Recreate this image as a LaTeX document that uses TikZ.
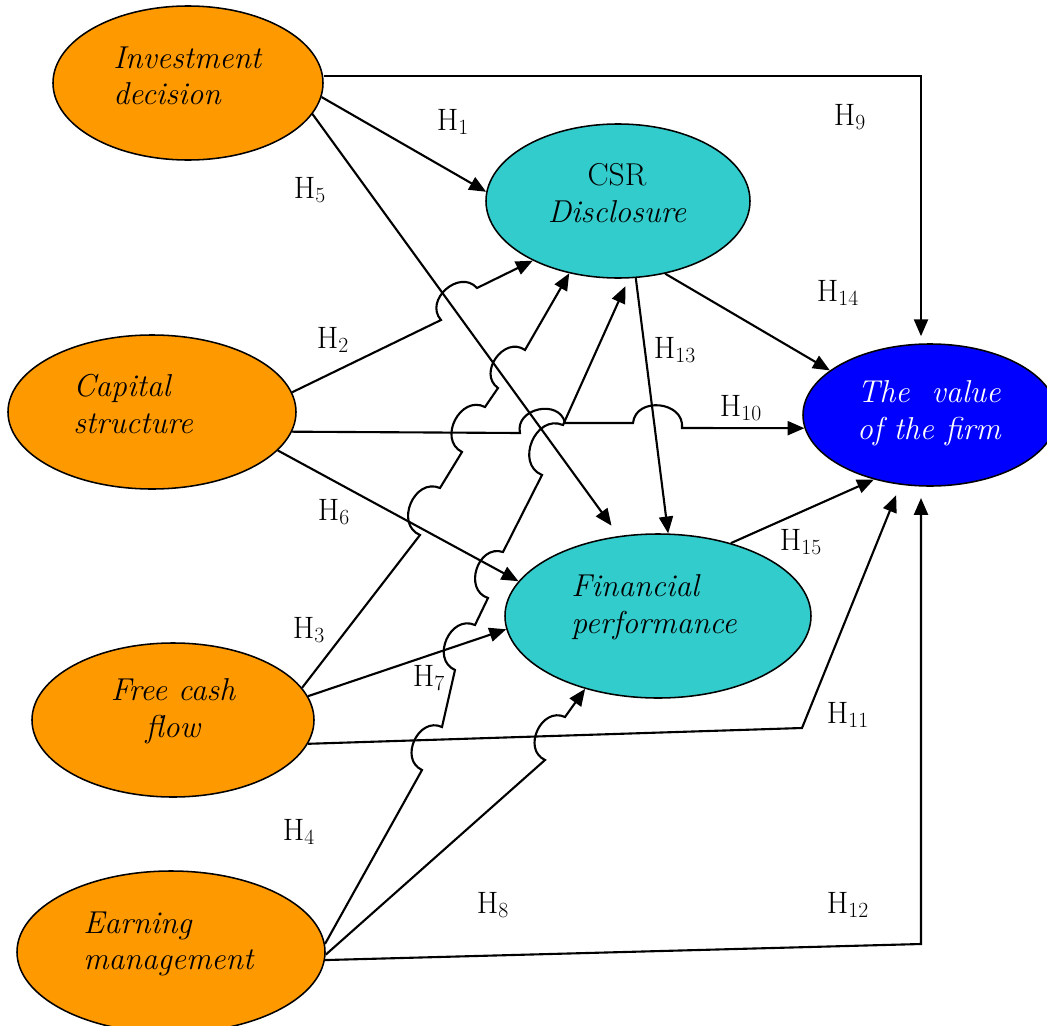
\documentclass[tikz,border=0pt]{standalone}
\usepackage{fontspec}
\usetikzlibrary{arrows.meta,shapes.geometric,calc}

\definecolor{orangefill}{RGB}{255,153,0}
\definecolor{tealfill}{RGB}{51,204,204}
\definecolor{bluefill}{RGB}{0,0,255}

\begin{document}
\begin{tikzpicture}[
            x=0.025cm,
            y=0.025cm,
            oval/.style={
                draw,
                ellipse,
                line width=1.1pt,
                inner sep=0pt
            },
            factor/.style={
                oval,
                fill=orangefill
            },
            mediator/.style={
                oval,
                fill=tealfill
            },
            outcome/.style={
                oval,
                fill=bluefill
            },
            ovaltext/.style={
                align=left,
                inner sep=0pt,
                font=\fontsize{22.5}{26}\selectfont\itshape
            },
            hyp/.style={
                font=\fontsize{22}{26}\selectfont
            },
            link/.style={
                line width=1.5pt
            },
            arrowlink/.style={
                link,
                -{Triangle[length=12pt,width=10pt]}
            },
            hop/.style={
                bend left=90,
                looseness=1.4
            }
        ]

% Parameters
            \def\px{0.025cm}

% Page frame
            \useasboundingbox (0,0) rectangle (1047,-1026);

% Constructs
            \node[factor,   minimum width=270*\px, minimum height=154*\px] (invest)  at (188,-83)  {};
            \node[factor,   minimum width=288*\px, minimum height=154*\px] (capital) at (152,-412) {};
            \node[factor,   minimum width=282*\px, minimum height=154*\px] (fcf)     at (173,-720) {};
            \node[factor,   minimum width=308*\px, minimum height=162*\px] (earn)    at (171,-952) {};
            \node[mediator, minimum width=264*\px, minimum height=154*\px] (csr)     at (618,-201) {};
            \node[mediator, minimum width=306*\px, minimum height=164*\px] (finperf) at (658,-616) {};
            \node[outcome,  minimum width=254*\px, minimum height=142*\px] (value)   at (930,-415) {};

% Construct names
            \node[ovaltext, anchor=west] (investtxt) at (113,-76)  {Investment\\decision};
            \node[ovaltext, anchor=west] (captxt)    at (73,-404)  {Capital\\structure};
            \node[ovaltext, align=center] (fcftxt)   at (173,-711) {Free cash\\flow};
            \node[ovaltext, anchor=west] (earntxt)   at (83,-944)  {Earning\\management};
            \node[ovaltext, anchor=west] (fintxt)    at (571,-607) {Financial\\performance};
            \node[ovaltext, align=center] (csrtxt)   at (617,-193) {{\upshape CSR}\\Disclosure};
            \node[ovaltext, align=center, text=white] (valuetxt) at (929,-413) {The~ value\\of the firm};

% Bends and hop points
            \foreach \n/\x/\y in {c9/921/76, c11/802/728, c12/921/944,
                                  p2a/441/320, p2b/477/288,
                                  p3a/420/535, p3b/440/488, p3c/462/452, p3d/485/407, p3e/498/388, p3f/525/350,
                                  p4a/422/770, p4b/442/727, p4c/455/670, p4d/475/625,
                                  p4e/488/598, p4f/503/552, p4g/542/475, p4h/563/425,
                                  p8a/545/760, p8b/565/717,
                                  p10a/520/433, p10b/565/423, p10c/633/423, p10d/682/428} {
                \coordinate (\n) at (\x,-\y);
            }

% Straight paths
            \draw[arrowlink] (invest.-6)   -- (csr.176);
            \draw[arrowlink, shorten >=9pt] (invest.-14) -- (finperf.116);
            \draw[arrowlink] (capital.-17) -- (finperf.166);
            \draw[arrowlink] (fcf.10)      -- (finperf.185);
            \draw[arrowlink] (csr.283)     -- (finperf.83);
            \draw[arrowlink] (csr.303)     -- (value.156);
            \draw[arrowlink] (finperf.45)  -- (value.229);

% Elbow paths to the value of the firm
            \draw[arrowlink, shorten >=5pt] (c9 -| invest.east) -- (c9) -- (c9 |- value.north);
            \draw[arrowlink, shorten >=8pt] (fcf.-10) -- (c11) -- (value.247);
            \draw[arrowlink, shorten >=8pt] (earn.-3.5) -- (c12) -- (c12 |- value.south);

% Paths with hops
            \draw[arrowlink] (capital.8) -- (p2a) to[hop] (p2b) -- (csr.215);
            \draw[arrowlink] (fcf.14) -- (p3a) to[hop] (p3b) -- (p3c) to[hop] (p3d)
                -- (p3e) to[hop] (p3f) -- (csr.236);
            \draw[arrowlink, shorten >=6pt] (earn.3) -- (p4a) to[hop] (p4b) -- (p4c) to[hop] (p4d)
                -- (p4e) to[hop] (p4f) -- (p4g) to[hop] (p4h) -- (csr.278);
            \draw[arrowlink] (earn.-1.5) -- (p8a) to[hop] (p8b) -- (finperf.225);
            \draw[arrowlink] (capital.-8) -- (p10a) to[hop] (p10b) -- (p10c) to[hop] (p10d)
                -- (value.186);

% Hypothesis labels
            \foreach \n/\x/\y in {1/453/122, 2/333/340, 3/309/630, 4/299/832,
                                  5/310/190, 6/334/512, 7/429/678, 8/493/905,
                                  9/850/117, 10/741/408, 11/848/715, 12/848/905,
                                  13/675/350, 14/838/293, 15/801/542} {
                \node[hyp] (hyp\n) at (\x,-\y) {H\textsubscript{\n}};
            }

\end{tikzpicture}
\end{document}
